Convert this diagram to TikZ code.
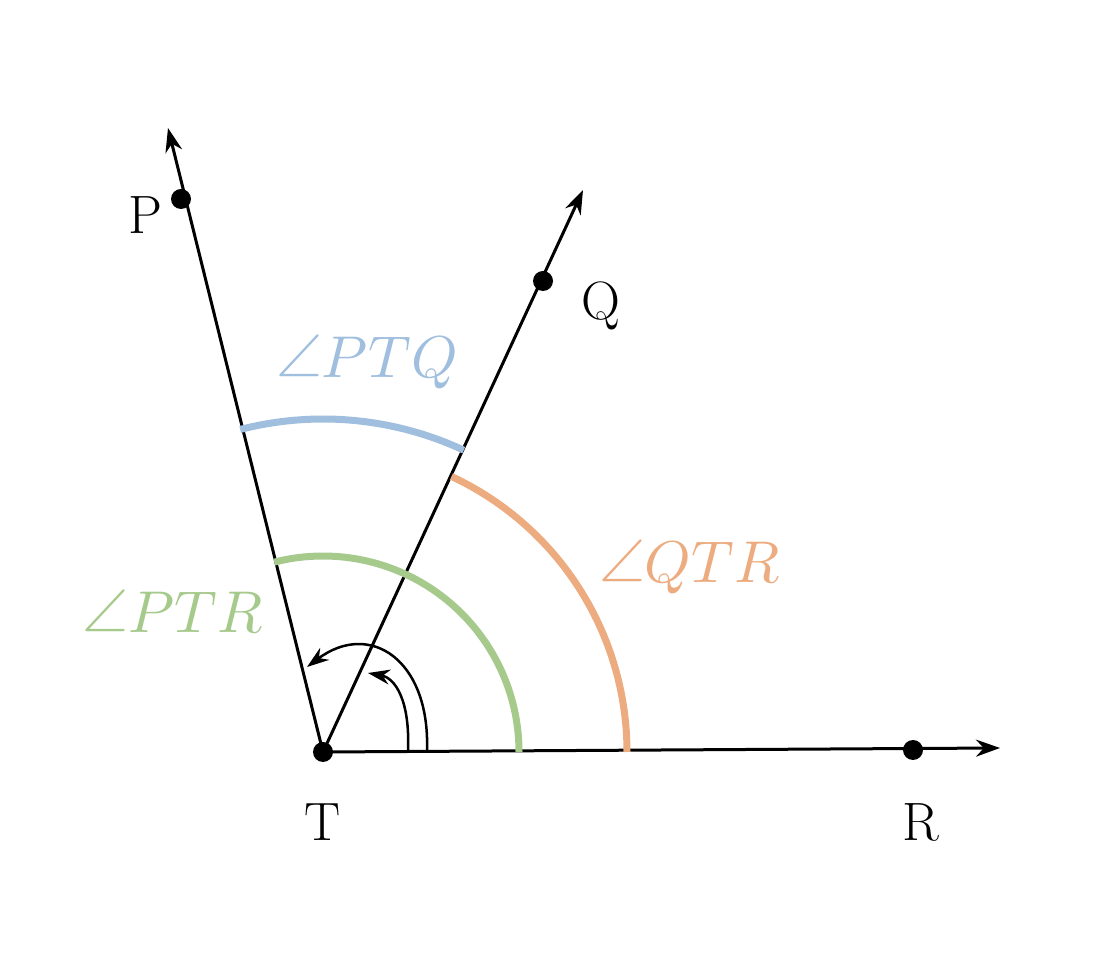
\documentclass[tikz,border=0pt]{standalone}
\usepackage{unicode-math}
\usetikzlibrary{arrows.meta}
\definecolor{cblue}{RGB}{160,190,222}
\definecolor{corange}{RGB}{236,172,128}
\definecolor{cgreen}{RGB}{166,201,140}
\begin{document}
\begin{tikzpicture}[x=1pt,y=1pt,
  ray/.style={line width=3pt,-{Stealth[length=24pt,width=17pt]}},
  turn/.style={line width=2.5pt,-{Stealth[length=22pt,width=15pt]}},
  dot/.style={circle,fill=black,inner sep=0pt,minimum size=20pt},
  ptlabel/.style={font=\fontsize{54}{62}\selectfont},
  anglab/.style={font=\fontsize{59}{68}\selectfont},
  anarc/.style={line width=7pt}]
\useasboundingbox (0,0) rectangle (1120,959);
\coordinate (T) at (323,207);
\coordinate (Pend) at (168,831);
\coordinate (Qend) at (583,769);
\coordinate (Rend) at (1000,211);
\draw[ray] (T) -- (Pend);
\draw[ray] (T) -- (Qend);
\draw[ray] (T) -- (Rend);
% coloured angle arcs
\draw[anarc,cblue] ([shift={(65:333)}]T) arc[start angle=65,end angle=104.4,radius=333];
\draw[anarc,corange] ([shift={(0:304)}]T) arc[start angle=0,end angle=65,radius=304];
\draw[anarc,cgreen] ([shift={(0:196)}]T) arc[start angle=0,end angle=104.4,radius=196];
% small turning arrows
\coordinate (a1s) at (427,209);
\coordinate (a1e) at (307,292);
\coordinate (a2s) at (408,209);
\coordinate (a2e) at (368,286);
\draw[turn] (a1s) .. controls (430,299) and (370,339) .. (a1e);
\draw[turn] (a2s) .. controls (410,259) and (395,281) .. (a2e);
% points
\node[dot] (Tp) at (T) {};
\node[dot] (Pp) at (181,760) {};
\node[dot] (Qp) at (543,678) {};
\node[dot] (Rp) at (913,209) {};
% labels
\node[ptlabel] (Pl) at (145,744) {P};
\node[ptlabel] (Ql) at (601,653) {Q};
\node[ptlabel] (Tl) at (323,137) {T};
\node[ptlabel] (Rl) at (921,137) {R};
\node[anglab,text=cblue] (l1) at (367,597) {$\angle PTQ$};
\node[anglab,text=corange] (l2) at (690,392) {$\angle QTR$};
\node[anglab,text=cgreen] (l3) at (173,347) {$\angle PTR$};
\end{tikzpicture}
\end{document}
